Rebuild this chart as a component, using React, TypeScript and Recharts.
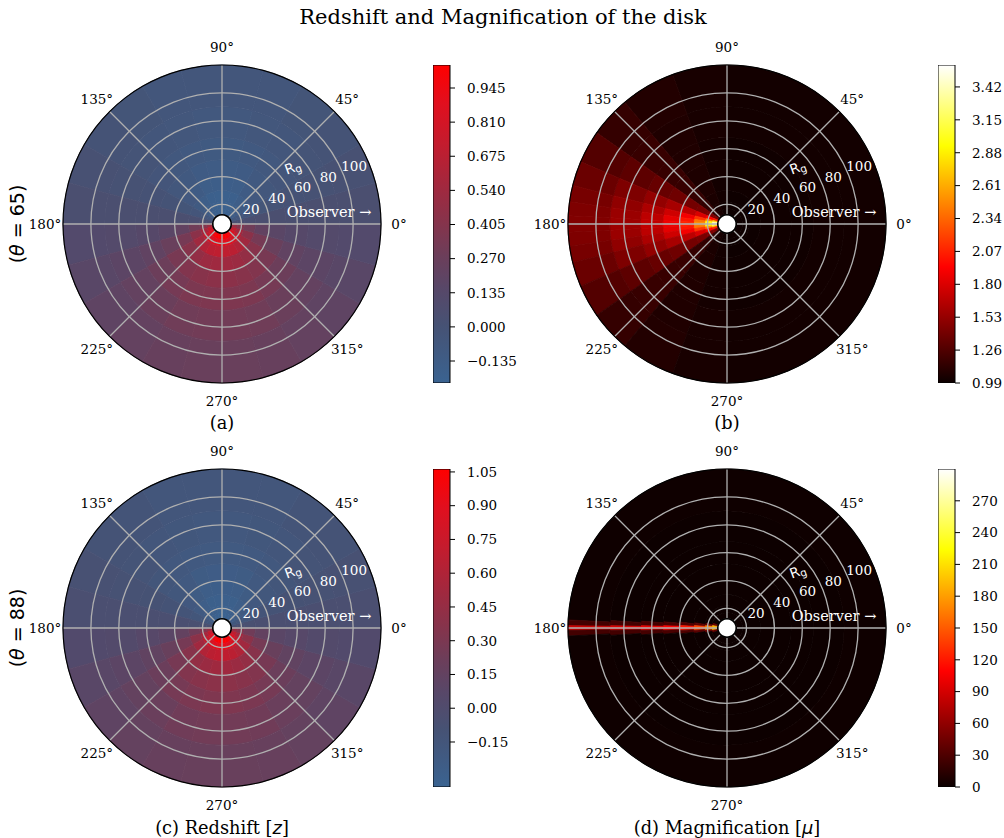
import React from 'react';
import {
  PieChart, Pie, Cell, PolarGrid, PolarRadiusAxis,
  ComposedChart, Bar, XAxis, YAxis,
} from 'recharts';

const SERIF = '"DejaVu Serif", serif';
const SANS = '"DejaVu Sans", sans-serif';

// ---------------- polar axes ----------------
const R_MIN = 6;
const R_MAX = 120;
const R_TICKS = [20, 40, 60, 80, 100];
const ANGLE_TICKS = [0, 45, 90, 135, 180, 225, 270, 315];
const RING_EDGES = [13, 17, 22, 30, 40, 52, 68, 90, 120];
const HOLE_R = 13;

const OUTER_PX = 159;
const LABEL_PX = 177;
const SIZE = 400;
const rPx = (r: number) => ((r - R_MIN) / (R_MAX - R_MIN)) * OUTER_PX;

// ---------------- colormaps ----------------
const Z_CMAP: [number, string][] = [
  [0, '#3a6391'], [0.18, '#465274'], [0.3, '#584768'], [0.4, '#6c3e5a'],
  [0.5, '#85344c'], [0.62, '#a2283e'], [0.75, '#c31c2e'], [0.88, '#e10f1e'], [1, '#ff0000'],
];
const HOT_CMAP: [number, string][] = [
  [0, '#0b0000'], [0.365, '#ff0000'], [0.746, '#ffff00'], [1, '#ffffff'],
];

// ---------------- panel (a): redshift, theta = 65 (24 bins of 15 deg, 8 rings) ----------------
const Z_SPANS = [15, 15, 15, 15, 15, 15, 15, 15, 15, 15, 15, 15, 15, 15, 15, 15, 15, 15, 15, 15, 15, 15, 15, 15];
const A_R1 = [0.04, -0.06, -0.13, -0.18, -0.20, -0.21, -0.21, -0.20, -0.18, -0.13, -0.06, 0.04, 0.50, 0.70, 0.85, 0.95, 1.00, 1.02, 1.02, 1.00, 0.95, 0.85, 0.70, 0.50];
const A_R2 = [0.04, -0.05, -0.12, -0.17, -0.19, -0.20, -0.20, -0.19, -0.17, -0.12, -0.05, 0.04, 0.40, 0.58, 0.72, 0.82, 0.88, 0.90, 0.90, 0.88, 0.82, 0.72, 0.58, 0.40];
const A_R3 = [0.04, -0.04, -0.10, -0.15, -0.18, -0.19, -0.19, -0.18, -0.15, -0.10, -0.04, 0.04, 0.30, 0.44, 0.55, 0.63, 0.68, 0.70, 0.70, 0.68, 0.63, 0.55, 0.44, 0.30];
const A_R4 = [0.05, -0.03, -0.08, -0.12, -0.15, -0.16, -0.16, -0.15, -0.12, -0.08, -0.03, 0.05, 0.22, 0.33, 0.42, 0.48, 0.52, 0.54, 0.54, 0.52, 0.48, 0.42, 0.33, 0.22];
const A_R5 = [0.05, -0.01, -0.06, -0.09, -0.12, -0.13, -0.13, -0.12, -0.09, -0.06, -0.01, 0.05, 0.17, 0.26, 0.34, 0.39, 0.42, 0.44, 0.44, 0.42, 0.39, 0.34, 0.26, 0.17];
const A_R6 = [0.05, 0.00, -0.04, -0.07, -0.09, -0.10, -0.10, -0.09, -0.07, -0.04, 0.00, 0.05, 0.14, 0.21, 0.28, 0.33, 0.36, 0.37, 0.37, 0.36, 0.33, 0.28, 0.21, 0.14];
const A_R7 = [0.05, 0.01, -0.02, -0.05, -0.06, -0.07, -0.07, -0.06, -0.05, -0.02, 0.01, 0.05, 0.12, 0.18, 0.23, 0.27, 0.30, 0.31, 0.31, 0.30, 0.27, 0.23, 0.18, 0.12];
const A_R8 = [0.05, 0.02, -0.01, -0.03, -0.05, -0.05, -0.05, -0.05, -0.03, -0.01, 0.02, 0.05, 0.11, 0.16, 0.20, 0.23, 0.25, 0.26, 0.26, 0.25, 0.23, 0.20, 0.16, 0.11];
const A_MIN = -0.222;
const A_MAX = 1.036;
const A_TICKS = [-0.135, 0, 0.135, 0.27, 0.405, 0.54, 0.675, 0.81, 0.945];

// ---------------- panel (b): magnification, theta = 65 ----------------
const B_SPANS = [90, 20, 20, 15, 12, 9, 6, 5, 3, 3, 5, 6, 9, 12, 15, 20, 20, 90];
const B_R1 = [1.00, 1.01, 1.04, 1.12, 1.45, 2.05, 2.75, 3.35, 3.55, 3.55, 3.35, 2.75, 2.05, 1.45, 1.12, 1.04, 1.01, 1.00];
const B_R2 = [1.00, 1.01, 1.04, 1.13, 1.43, 1.95, 2.45, 2.90, 3.10, 3.10, 2.90, 2.45, 1.95, 1.43, 1.13, 1.04, 1.01, 1.00];
const B_R3 = [1.00, 1.02, 1.05, 1.14, 1.42, 1.80, 2.15, 2.40, 2.50, 2.50, 2.40, 2.15, 1.80, 1.42, 1.14, 1.05, 1.02, 1.00];
const B_R4 = [1.01, 1.02, 1.06, 1.15, 1.40, 1.68, 1.90, 2.02, 2.08, 2.08, 2.02, 1.90, 1.68, 1.40, 1.15, 1.06, 1.02, 1.01];
const B_R5 = [1.01, 1.03, 1.06, 1.16, 1.38, 1.60, 1.75, 1.84, 1.88, 1.88, 1.84, 1.75, 1.60, 1.38, 1.16, 1.06, 1.03, 1.01];
const B_R6 = [1.01, 1.03, 1.07, 1.16, 1.35, 1.52, 1.62, 1.68, 1.70, 1.70, 1.68, 1.62, 1.52, 1.35, 1.16, 1.07, 1.03, 1.01];
const B_R7 = [1.02, 1.04, 1.07, 1.16, 1.31, 1.44, 1.51, 1.55, 1.56, 1.56, 1.55, 1.51, 1.44, 1.31, 1.16, 1.07, 1.04, 1.02];
const B_R8 = [1.02, 1.04, 1.08, 1.15, 1.27, 1.36, 1.41, 1.44, 1.45, 1.45, 1.44, 1.41, 1.36, 1.27, 1.15, 1.08, 1.04, 1.02];
const B_MIN = 0.99;
const B_MAX = 3.6;
const B_TICKS = [0.99, 1.26, 1.53, 1.8, 2.07, 2.34, 2.61, 2.88, 3.15, 3.42];

// ---------------- panel (c): redshift, theta = 88 ----------------
const C_R1 = [-0.06, -0.17, -0.25, -0.30, -0.33, -0.34, -0.34, -0.33, -0.30, -0.25, -0.17, -0.06, 0.46, 0.69, 0.85, 0.97, 1.02, 1.05, 1.05, 1.02, 0.97, 0.85, 0.69, 0.46];
const C_R2 = [-0.06, -0.16, -0.24, -0.29, -0.31, -0.33, -0.33, -0.31, -0.29, -0.24, -0.16, -0.06, 0.35, 0.55, 0.71, 0.82, 0.89, 0.91, 0.91, 0.89, 0.82, 0.71, 0.55, 0.35];
const C_R3 = [-0.06, -0.15, -0.21, -0.27, -0.30, -0.31, -0.31, -0.30, -0.27, -0.21, -0.15, -0.06, 0.24, 0.39, 0.52, 0.61, 0.66, 0.69, 0.69, 0.66, 0.61, 0.52, 0.39, 0.24];
const C_R4 = [-0.05, -0.13, -0.19, -0.24, -0.27, -0.28, -0.28, -0.27, -0.24, -0.19, -0.13, -0.05, 0.15, 0.27, 0.37, 0.44, 0.48, 0.51, 0.51, 0.48, 0.44, 0.37, 0.27, 0.15];
const C_R5 = [-0.05, -0.11, -0.17, -0.20, -0.24, -0.25, -0.25, -0.24, -0.20, -0.17, -0.11, -0.05, 0.09, 0.19, 0.28, 0.34, 0.37, 0.39, 0.39, 0.37, 0.34, 0.28, 0.19, 0.09];
const C_R6 = [-0.05, -0.10, -0.15, -0.18, -0.20, -0.21, -0.21, -0.20, -0.18, -0.15, -0.10, -0.05, 0.06, 0.14, 0.21, 0.27, 0.30, 0.32, 0.32, 0.30, 0.27, 0.21, 0.14, 0.06];
const C_R7 = [-0.05, -0.09, -0.12, -0.16, -0.17, -0.18, -0.18, -0.17, -0.16, -0.12, -0.09, -0.05, 0.03, 0.10, 0.16, 0.20, 0.24, 0.25, 0.25, 0.24, 0.20, 0.16, 0.10, 0.03];
const C_R8 = [-0.05, -0.08, -0.11, -0.13, -0.16, -0.16, -0.16, -0.16, -0.13, -0.11, -0.08, -0.05, 0.02, 0.08, 0.12, 0.16, 0.18, 0.19, 0.19, 0.18, 0.16, 0.12, 0.08, 0.02];
const C_MIN = -0.35;
const C_MAX = 1.063;
const C_TICKS = [-0.15, 0, 0.15, 0.3, 0.45, 0.6, 0.75, 0.9, 1.05];

// ---------------- panel (d): magnification, theta = 88 ----------------
const D_S1 = [161.7, 9.1, 18.4, 9.1, 161.7];
const D_S2 = [167.8, 6.1, 12.2, 6.1, 167.8];
const D_S3 = [170.8, 5.1, 8.2, 5.1, 170.8];
const D_S4 = [172.8, 4.3, 5.8, 4.3, 172.8];
const D_S5 = [174.4, 3.55, 4.1, 3.55, 174.4];
const D_S6 = [175.4, 3.1, 3.0, 3.1, 175.4];
const D_S7 = [176.35, 2.55, 2.2, 2.55, 176.35];
const D_S8 = [177.1, 2.05, 1.7, 2.05, 177.1];
const D_R1 = [1, 40, 190, 40, 1];
const D_R2 = [1, 40, 170, 40, 1];
const D_R3 = [1, 35, 140, 35, 1];
const D_R4 = [1, 30, 120, 30, 1];
const D_R5 = [1, 28, 108, 28, 1];
const D_R6 = [1, 26, 100, 26, 1];
const D_R7 = [1, 25, 92, 25, 1];
const D_R8 = [2, 25, 85, 25, 2];
const D_MIN = 0;
const D_MAX = 300;
const D_TICKS = [0, 30, 60, 90, 120, 150, 180, 210, 240, 270];

const SPINE = [{ span: 1 }];

// ---------------- helpers ----------------
const hexRgb = (h: string) => [1, 3, 5].map((i) => parseInt(h.slice(i, i + 2), 16));
const makeColor = (stops: [number, string][], vmin: number, vmax: number) => (v: number) => {
  let t = (v - vmin) / (vmax - vmin);
  t = Math.max(0, Math.min(1, t));
  for (let i = 1; i < stops.length; i++) {
    if (t <= stops[i][0]) {
      const [t0, c0] = stops[i - 1];
      const [t1, c1] = stops[i];
      const f = (t - t0) / (t1 - t0);
      const a = hexRgb(c0);
      const b = hexRgb(c1);
      const c = a.map((x, k) => Math.round(x + (b[k] - x) * f));
      return `rgb(${c[0]},${c[1]},${c[2]})`;
    }
  }
  return stops[stops.length - 1][1];
};

type Ring = { spans: number[]; values: number[] };

const M0 = { top: 0, right: 0, bottom: 0, left: 0 };

function HeatLayer({ rings, color }: { rings: Ring[]; color: (v: number) => string }) {
  return (
    <PieChart width={SIZE} height={SIZE} margin={M0}>
      {rings.map((ring, i) => {
        const data = ring.spans.map((s, j) => ({ span: s, value: ring.values[j] }));
        return (
          <Pie
            key={i}
            data={data}
            dataKey="span"
            cx="50%"
            cy="50%"
            startAngle={0}
            endAngle={360}
            innerRadius={rPx(RING_EDGES[i])}
            outerRadius={rPx(RING_EDGES[i + 1])}
            paddingAngle={0}
            isAnimationActive={false}
            stroke="none"
          >
            {data.map((d, j) => (
              <Cell key={j} fill={color(d.value)} stroke={color(d.value)} strokeWidth={0.8} />
            ))}
          </Pie>
        );
      })}
    </PieChart>
  );
}

const RadiusTick = (props: any) => {
  const { x, y, payload } = props;
  return (
    <text x={x + 11} y={y - 8} textAnchor="middle" dominantBaseline="central" fontSize={13.5} fontFamily={SERIF} fill="#fff">
      {payload.value}
    </text>
  );
};

function Overlay() {
  const hole = rPx(HOLE_R);
  return (
    <PieChart width={SIZE} height={SIZE} margin={M0} innerRadius={0} outerRadius={OUTER_PX} startAngle={0} endAngle={360}>
      <PolarGrid
        gridType="circle"
        polarRadius={R_TICKS.map(rPx)}
        polarAngles={ANGLE_TICKS}
        stroke="#b0b0b0"
        strokeWidth={1.3}
      />
      <PolarRadiusAxis
        type="number"
        domain={[R_MIN, R_MAX]}
        ticks={R_TICKS}
        angle={22.5}
        axisLine={false}
        tickLine={false}
        tick={RadiusTick}
        allowDataOverflow
      />
      <Pie data={SPINE} dataKey="span" cx="50%" cy="50%" innerRadius={OUTER_PX - 0.6} outerRadius={OUTER_PX + 0.6}
        fill="#000" stroke="none" isAnimationActive={false} />
      <Pie data={SPINE} dataKey="span" cx="50%" cy="50%" innerRadius={0} outerRadius={hole - 1.2}
        fill="#fff" stroke="none" isAnimationActive={false} />
      <Pie data={SPINE} dataKey="span" cx="50%" cy="50%" innerRadius={hole - 1.3} outerRadius={hole + 0.3}
        fill="#000" stroke="none" isAnimationActive={false} />
    </PieChart>
  );
}

function PolarPanel({ cx, cy, rings, color }: { cx: number; cy: number; rings: Ring[]; color: (v: number) => string }) {
  return (
    <div style={{ position: 'absolute', left: cx - SIZE / 2, top: cy - SIZE / 2, width: SIZE, height: SIZE }}>
      <div style={{ position: 'absolute', left: 0, top: 0 }}>
        <HeatLayer rings={rings} color={color} />
      </div>
      <div style={{ position: 'absolute', left: 0, top: 0 }}>
        <Overlay />
      </div>
    </div>
  );
}

function Colorbar({ id, left, top, vmin, vmax, ticks, fmt, stops }: {
  id: string; left: number; top: number; vmin: number; vmax: number; ticks: number[];
  fmt: (v: number) => string; stops: [number, string][];
}) {
  const data = [{ name: 'cb', range: [vmin, vmax] }];
  return (
    <div style={{ position: 'absolute', left, top }}>
      <ComposedChart width={110} height={338} data={data} margin={{ top: 10, right: 0, bottom: 10, left: 0 }}
        barCategoryGap={0} barGap={0}>
        <defs>
          <linearGradient id={id} x1="0" y1="1" x2="0" y2="0">
            {stops.map(([t, c], i) => (
              <stop key={i} offset={t} stopColor={c} />
            ))}
          </linearGradient>
        </defs>
        <XAxis dataKey="name" type="category" hide />
        <YAxis
          orientation="right"
          type="number"
          domain={[vmin, vmax]}
          ticks={ticks}
          tickFormatter={fmt}
          width={93}
          axisLine={false}
          stroke="#000"
          tickSize={5}
          tickMargin={12}
          interval={0}
          allowDataOverflow
          tick={{ fontSize: 13.5, fill: '#000', fontFamily: SERIF }}
        />
        <Bar dataKey="range" fill={`url(#${id})`} stroke="#000" strokeWidth={1} isAnimationActive={false} />
      </ComposedChart>
    </div>
  );
}

const minus = (s: string) => s.replace('-', '\u2212');
const f3 = (v: number) => minus(v.toFixed(3));
const f2 = (v: number) => minus(v.toFixed(2));
const f0 = (v: number) => minus(v.toFixed(0));

const ringsA: Ring[] = [A_R1, A_R2, A_R3, A_R4, A_R5, A_R6, A_R7, A_R8].map((values) => ({ spans: Z_SPANS, values }));
const ringsB: Ring[] = [B_R1, B_R2, B_R3, B_R4, B_R5, B_R6, B_R7, B_R8].map((values) => ({ spans: B_SPANS, values }));
const ringsC: Ring[] = [C_R1, C_R2, C_R3, C_R4, C_R5, C_R6, C_R7, C_R8].map((values) => ({ spans: Z_SPANS, values }));
const D_SPANS = [D_S1, D_S2, D_S3, D_S4, D_S5, D_S6, D_S7, D_S8];
const ringsD: Ring[] = [D_R1, D_R2, D_R3, D_R4, D_R5, D_R6, D_R7, D_R8].map((values, i) => ({ spans: D_SPANS[i], values }));

const CENTERS = [
  [222, 224],
  [727, 224],
  [222, 628],
  [727, 628],
];

export default function App() {
  const colA = makeColor(Z_CMAP, A_MIN, A_MAX);
  const colB = makeColor(HOT_CMAP, B_MIN, B_MAX);
  const colC = makeColor(Z_CMAP, C_MIN, C_MAX);
  const colD = makeColor(HOT_CMAP, D_MIN, D_MAX);
  const RAD = Math.PI / 180;
  return (
    <div style={{ position: 'absolute', left: 0, top: 0, width: 1004, height: 838, background: '#fff', overflow: 'hidden' }}>
      <PolarPanel cx={CENTERS[0][0]} cy={CENTERS[0][1]} rings={ringsA} color={colA} />
      <PolarPanel cx={CENTERS[1][0]} cy={CENTERS[1][1]} rings={ringsB} color={colB} />
      <PolarPanel cx={CENTERS[2][0]} cy={CENTERS[2][1]} rings={ringsC} color={colC} />
      <PolarPanel cx={CENTERS[3][0]} cy={CENTERS[3][1]} rings={ringsD} color={colD} />

      <Colorbar id="cbA" left={433} top={55} vmin={A_MIN} vmax={A_MAX} ticks={A_TICKS} fmt={f3} stops={Z_CMAP} />
      <Colorbar id="cbB" left={938} top={55} vmin={B_MIN} vmax={B_MAX} ticks={B_TICKS} fmt={f2} stops={HOT_CMAP} />
      <Colorbar id="cbC" left={433} top={459} vmin={C_MIN} vmax={C_MAX} ticks={C_TICKS} fmt={f2} stops={Z_CMAP} />
      <Colorbar id="cbD" left={938} top={459} vmin={D_MIN} vmax={D_MAX} ticks={D_TICKS} fmt={f0} stops={HOT_CMAP} />

      <svg width={1004} height={838} style={{ position: 'absolute', left: 0, top: 0, pointerEvents: 'none' }}>
        <text x={503} y={24} textAnchor="middle" fontSize={21} fontFamily={SERIF} fill="#000">
          Redshift and Magnification of the disk
        </text>
        <text transform="translate(17,224) rotate(-90)" textAnchor="middle" dominantBaseline="central" fontSize={19} fontFamily={SANS} fill="#000">
          (<tspan fontStyle="italic">θ</tspan> = 65)
        </text>
        <text transform="translate(17,628) rotate(-90)" textAnchor="middle" dominantBaseline="central" fontSize={19} fontFamily={SANS} fill="#000">
          (<tspan fontStyle="italic">θ</tspan> = 88)
        </text>
        <text x={222} y={422} textAnchor="middle" dominantBaseline="central" fontSize={17.8} fontFamily={SERIF} fill="#000">(a)</text>
        <text x={727} y={422} textAnchor="middle" dominantBaseline="central" fontSize={17.8} fontFamily={SERIF} fill="#000">(b)</text>
        <text x={222} y={827} textAnchor="middle" dominantBaseline="central" fontSize={17.8} fontFamily={SERIF} fill="#000">
          (c) Redshift [<tspan fontFamily={SANS} fontStyle="italic">z</tspan>]
        </text>
        <text x={727} y={827} textAnchor="middle" dominantBaseline="central" fontSize={17.8} fontFamily={SERIF} fill="#000">
          (d) Magnification [<tspan fontFamily={SANS} fontStyle="italic">μ</tspan>]
        </text>
        {CENTERS.map(([cx, cy], i) => (
          <g key={i}>
            {ANGLE_TICKS.map((a) => (
              <text key={a} x={cx + LABEL_PX * Math.cos(a * RAD)} y={cy - LABEL_PX * Math.sin(a * RAD)}
                textAnchor="middle" dominantBaseline="central" fontSize={13.5} fontFamily={SERIF} fill="#000">
                {`${a}°`}
              </text>
            ))}
            <text x={cx + 107} y={cy - 12} textAnchor="middle" dominantBaseline="central" fontSize={14.5} fontFamily={SERIF} fill="#fff">
              Observer →
            </text>
            <text transform={`translate(${cx + 63},${cy - 54}) rotate(-20)`} dominantBaseline="central" fontSize={14} fontFamily={SANS} fill="#fff">
              R<tspan dy={3} fontSize={10.5}>g</tspan>
            </text>
          </g>
        ))}
      </svg>
    </div>
  );
}
